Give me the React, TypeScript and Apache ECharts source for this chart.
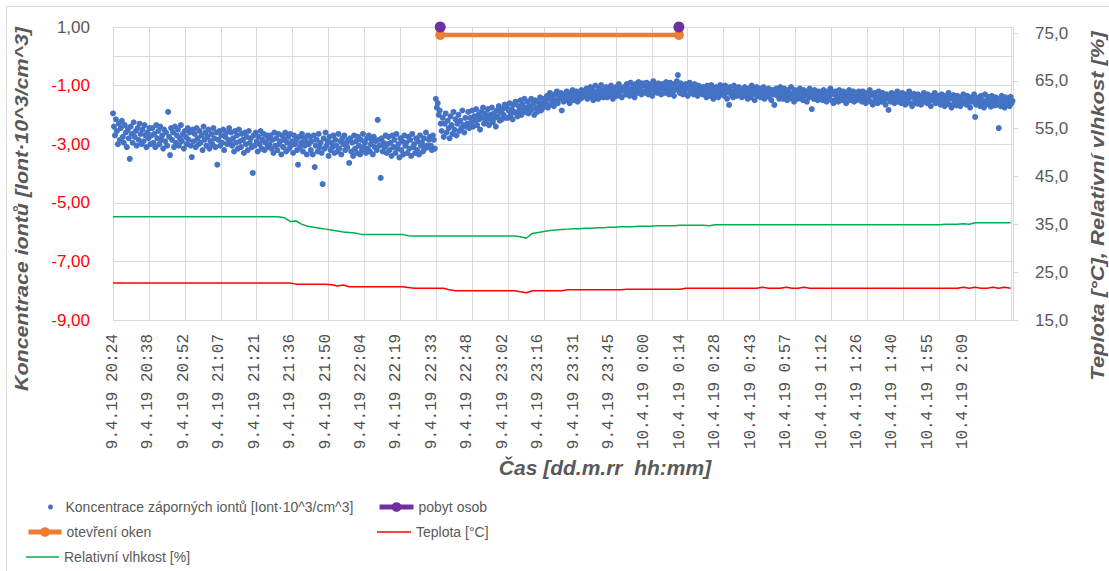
import React, { useEffect, useRef } from "react";
import * as echarts from "echarts";

// ---- categories: one reading every 12 s, starting 9.4.19 20:24 ----
const N_CAT = 1830;
const START_SEC = (20 * 60 + 24) * 60;
const STEP_SEC = 12;
const CATEGORIES: string[] = Array.from({ length: N_CAT }, (_, i) => {
  const t = START_SEC + i * STEP_SEC;
  const day = t >= 86400 ? 10 : 9;
  const s = t % 86400;
  const h = Math.floor(s / 3600);
  const m = Math.floor((s % 3600) / 60);
  return `${day}.4.19 ${h}:${String(m).padStart(2, "0")}`;
});

const X_TICK_LABELS = [
  "9.4.19 20:24", "9.4.19 20:38", "9.4.19 20:52", "9.4.19 21:07", "9.4.19 21:21",
  "9.4.19 21:36", "9.4.19 21:50", "9.4.19 22:04", "9.4.19 22:19", "9.4.19 22:33",
  "9.4.19 22:48", "9.4.19 23:02", "9.4.19 23:16", "9.4.19 23:31", "9.4.19 23:45",
  "10.4.19 0:00", "10.4.19 0:14", "10.4.19 0:28", "10.4.19 0:43", "10.4.19 0:57",
  "10.4.19 1:12", "10.4.19 1:26", "10.4.19 1:40", "10.4.19 1:55", "10.4.19 2:09",
];
const LABEL_EVERY = 72; // categories between labels
const GRID_EVERY = 73; // categories between vertical gridlines

// ---- negative ion concentration, one value every 2 categories ----
const ION_STEP = 2;
const ION = [
  -1.95, -2.40, -2.70, -2.15, -2.55, -3.00, -2.30, -2.85, -2.45, -2.20, -2.75, -2.95, -2.35, -2.60, -3.10, -2.50, -2.80, -3.50, -2.40, -2.65,
  -2.95, -2.25, -2.75, -2.55, -3.05, -2.45, -2.85, -2.30, -2.65, -3.00, -2.50, -2.90, -2.35, -2.70, -3.10, -2.60, -2.80, -2.45, -3.00, -2.70,
  -2.45, -2.95, -2.65, -3.10, -2.35, -2.80, -2.55, -3.00, -2.40, -2.85, -2.70, -3.15, -2.50, -2.90, -2.60, -3.05, -1.90, -2.75, -3.37, -2.45,
  -2.85, -2.60, -3.10, -2.40, -2.95, -2.70, -2.50, -3.05, -2.80, -2.35, -2.90, -2.65, -3.15, -2.55, -2.75, -3.00, -2.45, -2.85, -2.60, -3.05,
  -3.44, -2.50, -2.90, -2.65, -3.10, -2.45, -2.80, -3.00, -2.55, -2.95, -2.70, -3.20, -2.40, -2.85, -2.60, -3.05, -2.75, -2.50, -3.15, -2.90,
  -2.65, -3.00, -2.45, -2.80, -3.10, -2.60, -3.70, -2.85, -2.55, -3.05, -2.70, -2.95, -2.50, -3.20, -2.75, -2.60, -3.00, -2.85, -2.45, -2.95,
  -2.60, -3.05, -2.80, -3.25, -2.55, -2.95, -2.70, -3.15, -2.50, -2.90, -3.10, -2.65, -2.85, -3.30, -2.60, -3.00, -2.75, -3.20, -2.55, -2.95,
  -2.80, -3.10, -3.98, -2.70, -3.05, -2.60, -2.90, -3.25, -2.75, -3.00, -2.55, -3.15, -2.85, -2.65, -3.20, -2.95, -2.70, -3.10, -2.80, -3.00,
  -2.70, -3.15, -2.85, -3.30, -2.60, -3.05, -2.80, -3.20, -2.65, -3.00, -2.90, -3.35, -2.70, -3.10, -2.85, -2.60, -3.25, -2.95, -2.75, -3.15,
  -2.65, -3.05, -2.90, -3.30, -2.70, -3.00, -2.85, -3.20, -3.70, -2.75, -3.10, -2.95, -2.65, -3.25, -2.80, -3.05, -2.90, -3.35, -2.70, -3.00,
  -2.75, -3.20, -2.90, -3.35, -2.70, -3.78, -3.05, -2.85, -3.25, -2.65, -3.10, -2.95, -3.30, -4.36, -2.80, -3.15, -2.60, -3.05, -2.90, -3.40,
  -2.75, -3.20, -2.95, -3.10, -2.70, -3.30, -2.85, -3.05, -3.25, -2.65, -3.15, -2.90, -3.35, -2.80, -3.00, -2.70, -3.20, -2.95, -3.10, -2.85,
  -3.64, -2.80, -3.25, -2.95, -3.40, -2.70, -3.15, -2.90, -3.30, -2.75, -3.05, -3.35, -2.85, -3.20, -2.65, -3.10, -2.95, -3.30, -2.80, -3.15,
  -2.70, -3.25, -3.00, -2.85, -3.35, -2.75, -3.10, -2.90, -3.20, -2.17, -2.85, -3.05, -4.15, -2.80, -3.25, -2.95, -3.10, -2.70, -3.30, -3.00,
  -2.75, -3.20, -2.95, -3.40, -2.70, -3.10, -2.85, -3.30, -2.65, -3.15, -3.00, -3.45, -2.80, -3.20, -2.90, -3.35, -2.70, -3.05, -2.95, -3.30,
  -2.75, -3.15, -2.85, -3.40, -2.65, -3.10, -3.00, -3.30, -2.80, -3.20, -2.90, -3.35, -2.70, -3.05, -2.95, -3.25, -2.80, -3.15, -2.60, -3.05,
  -3.10, -2.85, -2.75, -3.05, -3.20, -2.70, -2.85, -3.15, -1.45, -1.75, -1.60, -2.00, -1.85, -2.30, -2.55, -2.10, -2.75, -2.30, -1.95, -2.60,
  -2.20, -2.45, -2.80, -2.05, -2.35, -2.65, -1.90, -2.50, -2.15, -2.70, -2.30, -2.00, -2.55, -2.20, -2.45, -1.85, -2.35, -2.60, -2.10, -2.40,
  -2.30, -1.90, -2.45, -2.10, -2.25, -1.85, -2.40, -2.05, -2.20, -1.80, -2.35, -2.00, -2.15, -2.50, -1.90, -2.10, -1.75, -2.30, -1.95, -2.20,
  -2.05, -1.80, -2.35, -2.00, -2.15, -1.75, -2.25, -1.95, -2.10, -2.40, -1.85, -2.05, -1.70, -2.20, -1.90, -2.15, -1.80, -2.00, -1.65, -2.10,
  -1.75, -2.10, -1.85, -1.60, -2.00, -1.80, -2.15, -1.65, -1.90, -1.55, -1.95, -2.05, -1.70, -1.85, -1.50, -2.00, -1.65, -1.80, -1.45, -1.90,
  -1.75, -1.55, -1.95, -1.70, -1.85, -1.45, -1.80, -1.60, -2.00, -1.50, -1.75, -1.90, -1.55, -1.70, -1.40, -1.85, -1.60, -1.75, -1.45, -1.65,
  -1.60, -1.35, -1.75, -1.45, -1.25, -1.65, -1.40, -1.55, -1.70, -1.30, -1.50, -1.20, -1.60, -1.35, -1.45, -1.25, -1.85, -1.40, -1.55, -1.30,
  -1.45, -1.20, -1.50, -1.35, -1.60, -1.25, -1.40, -1.15, -1.50, -1.30, -1.45, -1.20, -1.55, -1.35, -1.25, -1.45, -1.15, -1.40, -1.30, -1.20,
  -1.35, -1.10, -1.45, -1.20, -1.30, -1.05, -1.40, -1.15, -1.50, -1.25, -1.00, -1.35, -1.20, -1.45, -1.10, -1.30, -0.98, -1.25, -1.40, -1.15,
  -1.30, -1.05, -1.40, -1.20, -1.10, -1.35, -1.00, -1.25, -1.45, -1.15, -1.30, -1.05, -1.35, -1.20, -0.95, -1.25, -1.10, -1.40, -1.15, -1.05,
  -1.05, -1.30, -0.95, -1.20, -1.10, -1.35, -0.90, -1.15, -1.25, -1.00, -1.40, -0.95, -1.10, -1.25, -0.88, -1.15, -1.05, -1.30, -0.92, -1.20,
  -1.00, -1.25, -0.90, -1.10, -1.30, -0.95, -1.15, -1.05, -1.35, -0.85, -1.20, -1.00, -1.10, -1.25, -0.92, -1.15, -1.05, -1.30, -0.95, -1.10,
  -1.00, -1.25, -0.88, -1.15, -1.05, -1.30, -0.90, -1.10, -1.20, -0.95, -1.35, -1.00, -1.15, -0.85, -0.64, -1.05, -1.25, -0.92, -1.15, -1.30,
  -1.00, -1.20, -0.95, -1.10, -1.35, -1.05, -0.90, -1.25, -1.15, -1.00, -1.30, -0.95, -1.20, -1.10, -1.35, -1.00, -1.25, -1.05, -1.15, -1.30,
  -1.05, -1.30, -1.15, -1.40, -1.00, -1.25, -1.10, -1.35, -0.98, -1.20, -1.45, -1.10, -1.30, -1.05, -1.25, -1.40, -1.15, -0.98, -1.30, -1.20,
  -1.10, -1.35, -1.00, -1.25, -1.45, -1.15, -1.66, -1.05, -1.30, -1.20, -1.40, -1.00, -1.25, -1.10, -1.35, -1.15, -1.05, -1.30, -1.20, -1.40,
  -1.15, -1.35, -1.05, -1.30, -1.20, -1.45, -1.10, -1.25, -1.40, -1.00, -1.30, -1.15, -1.50, -1.20, -1.05, -1.35, -1.25, -1.10, -1.40, -1.20,
  -1.30, -1.05, -1.45, -1.15, -1.35, -1.25, -1.10, -1.40, -1.20, -1.50, -1.15, -1.30, -1.66, -1.25, -1.10, -1.35, -1.20, -1.45, -1.05, -1.30,
  -1.20, -1.45, -1.10, -1.35, -1.25, -1.50, -1.15, -1.40, -1.30, -1.05, -1.45, -1.25, -1.55, -1.15, -1.35, -1.20, -1.45, -1.30, -1.10, -1.40,
  -1.25, -1.50, -1.15, -1.35, -1.30, -1.55, -1.20, -1.40, -1.10, -1.35, -1.80, -1.25, -1.45, -1.15, -1.40, -1.30, -1.50, -1.20, -1.35, -1.25,
  -1.25, -1.50, -1.15, -1.40, -1.30, -1.55, -1.20, -1.45, -1.35, -1.10, -1.50, -1.25, -1.60, -1.30, -1.20, -1.45, -1.35, -1.55, -1.15, -1.40,
  -1.30, -1.50, -1.20, -1.45, -1.35, -1.60, -1.25, -1.40, -1.15, -1.50, -1.30, -1.45, -1.20, -1.55, -1.35, -1.25, -1.50, -1.40, -1.20, -1.45,
  -1.30, -1.55, -1.20, -1.45, -1.35, -1.60, -1.25, -1.50, -1.40, -1.15, -1.55, -1.30, -1.65, -1.35, -1.25, -1.50, -1.40, -1.60, -1.20, -1.45,
  -1.35, -1.55, -1.25, -1.50, -1.40, -1.65, -1.30, -1.45, -1.83, -1.35, -1.55, -1.25, -1.50, -1.40, -1.60, -1.30, -1.45, -1.20, -1.55, -1.40,
  -1.35, -1.60, -1.25, -1.50, -1.40, -1.65, -1.30, -1.55, -1.45, -1.20, -1.60, -1.35, -1.70, -1.40, -1.28, -1.55, -1.45, -1.62, -1.30, -1.50,
  -1.40, -1.65, -1.35, -1.55, -1.25, -1.50, -1.45, -1.60, -1.30, -1.55, -1.40, -1.70, -1.35, -1.50, -1.45, -1.25, -1.60, -1.40, -1.55, -1.35,
  -1.40, -1.65, -1.30, -1.55, -1.45, -1.70, -1.35, -1.60, -1.50, -1.25, -1.65, -1.40, -1.75, -1.45, -1.32, -1.60, -1.50, -1.68, -1.35, -1.55,
  -1.45, -1.70, -1.40, -1.60, -1.30, -1.55, -1.50, -1.65, -1.35, -1.60, -1.45, -1.75, -1.40, -1.55, -1.50, -1.30, -2.07, -1.65, -1.45, -1.55,
  -1.40, -1.70, -1.35, -1.60, -1.50, -1.75, -1.30, -1.65, -1.55, -1.38, -1.62, -1.45, -1.72, -1.35, -1.60, -1.50, -1.68, -1.40, -1.55, -1.65,
  -2.45, -1.45, -1.70, -1.35, -1.60, -1.50, -1.75, -1.40, -1.62, -1.55, -1.45, -1.70, -1.38, -1.60, -1.52,
];

// ---- temperature and humidity, one value every 12 categories ----
const LINE_STEP = 12;
const TEMP = [
  22.74, 22.74, 22.74, 22.74, 22.74, 22.74, 22.74, 22.74, 22.74, 22.74,
  22.74, 22.74, 22.74, 22.74, 22.74, 22.74, 22.74, 22.74, 22.74, 22.74,
  22.74, 22.74, 22.74, 22.74, 22.74, 22.74, 22.74, 22.74, 22.74, 22.74,
  22.74, 22.5, 22.47, 22.47, 22.47, 22.47, 22.47, 22.35, 22.1, 22.3,
  21.97, 21.97, 21.97, 21.97, 21.97, 21.97, 21.97, 21.97, 21.97, 21.97,
  21.8, 21.63, 21.63, 21.63, 21.63, 21.63, 21.63, 21.3, 21.13, 21.13,
  21.13, 21.13, 21.13, 21.13, 21.13, 21.13, 21.13, 21.13, 21.13, 20.9,
  20.7, 21.13, 21.13, 21.13, 21.13, 21.13, 21.13, 21.3, 21.3, 21.3,
  21.3, 21.3, 21.3, 21.3, 21.3, 21.3, 21.3, 21.45, 21.45, 21.45,
  21.45, 21.45, 21.45, 21.45, 21.45, 21.45, 21.45, 21.63, 21.63, 21.63,
  21.63, 21.63, 21.63, 21.63, 21.63, 21.63, 21.63, 21.63, 21.63, 21.63,
  21.85, 21.63, 21.63, 21.63, 21.85, 21.63, 21.63, 21.85, 21.63, 21.63,
  21.63, 21.63, 21.63, 21.63, 21.63, 21.63, 21.63, 21.63, 21.63, 21.63,
  21.63, 21.63, 21.63, 21.63, 21.63, 21.63, 21.63, 21.63, 21.63, 21.63,
  21.63, 21.63, 21.63, 21.63, 21.85, 21.63, 21.85, 21.63, 21.63, 21.85,
  21.63, 21.85, 21.63,
];
const HUM = [
  36.6, 36.6, 36.6, 36.6, 36.6, 36.6, 36.6, 36.6, 36.6, 36.6,
  36.6, 36.6, 36.6, 36.6, 36.6, 36.6, 36.6, 36.6, 36.6, 36.6,
  36.6, 36.6, 36.6, 36.6, 36.6, 36.6, 36.6, 36.6, 36.6, 36.4,
  35.6, 35.7, 35.0, 34.6, 34.4, 34.2, 34.0, 33.8, 33.6, 33.4,
  33.3, 33.2, 32.9, 32.9, 32.9, 32.9, 32.9, 32.9, 32.9, 32.9,
  32.6, 32.55, 32.55, 32.55, 32.55, 32.55, 32.55, 32.55, 32.55, 32.55,
  32.55, 32.55, 32.55, 32.55, 32.55, 32.55, 32.55, 32.55, 32.55, 32.4,
  32.1, 33.1, 33.3, 33.5, 33.7, 33.8, 33.9, 34.0, 34.1, 34.1,
  34.2, 34.2, 34.3, 34.3, 34.4, 34.4, 34.5, 34.5, 34.5, 34.6,
  34.6, 34.6, 34.7, 34.7, 34.7, 34.7, 34.8, 34.8, 34.8, 34.8,
  34.8, 34.7, 34.9, 34.9, 34.9, 34.9, 34.9, 34.9, 34.9, 34.9,
  34.9, 34.9, 34.9, 34.9, 34.9, 34.9, 34.9, 34.9, 34.9, 34.9,
  34.9, 34.9, 34.9, 34.9, 34.9, 34.9, 34.9, 34.9, 34.9, 34.9,
  34.9, 34.9, 34.9, 34.9, 34.9, 34.9, 34.9, 34.9, 34.9, 34.9,
  34.9, 35.0, 35.0, 35.0, 35.1, 35.0, 35.35, 35.35, 35.35, 35.35,
  35.35, 35.35, 35.35,
];

// ---- events (left axis) ----
const EVENT_IDX = [665, 1150]; // start / end category
const WINDOW_LEVEL = 0.73;
const PRESENCE_LEVEL = 1.0;

const NAME_ION = "Koncentrace záporných iontů [Iont·10^3/cm^3]";
const NAME_PRES = "pobyt osob";
const NAME_WIN = "otevření oken";
const NAME_TEMP = "Teplota [°C]";
const NAME_HUM = "Relativní vlhkost [%]";

const GRAY = "#595959";
const GRID = "#d9d9d9";
const SANS = "'Liberation Sans', Arial, sans-serif";

export default function App() {
  const ref = useRef<HTMLDivElement>(null);
  useEffect(() => {
    if (!ref.current) return;
    const chart = echarts.init(ref.current, undefined, { renderer: "svg" });
    const ionData = ION.map((v, i) => [i * ION_STEP, v]);
    const tempData = TEMP.map((v, i) => [i * LINE_STEP, v]);
    const humData = HUM.map((v, i) => [i * LINE_STEP, v]);
    const mid = Math.round((EVENT_IDX[0] + EVENT_IDX[1]) / 2);

    const legendBase = {
      orient: "horizontal",
      padding: 0,
      itemGap: 0,
      selectedMode: false,
      textStyle: { color: GRAY, fontSize: 14, fontFamily: SANS },
    };

    chart.setOption({
      animation: false,
      backgroundColor: "#ffffff",
      grid: { left: 113, right: 96, top: 27, bottom: 251, containLabel: false },
      legend: [
        { ...legendBase, data: [NAME_ION], left: 48, top: 500, itemWidth: 20, itemHeight: 5 },
        { ...legendBase, data: [NAME_PRES], left: 377, top: 500, itemWidth: 34, itemHeight: 12, lineStyle: { width: 5 } },
        { ...legendBase, data: [NAME_WIN], left: 26, top: 525, itemWidth: 33, itemHeight: 12, lineStyle: { width: 5 } },
        { ...legendBase, data: [{ name: NAME_TEMP, icon: "rect" }], left: 377, top: 525, itemWidth: 34, itemHeight: 1.5 },
        { ...legendBase, data: [{ name: NAME_HUM, icon: "rect" }], left: 26, top: 550, itemWidth: 33, itemHeight: 1.5 },
      ],
      xAxis: {
        type: "category",
        data: CATEGORIES,
        boundaryGap: false,
        axisLine: { show: true, lineStyle: { color: GRID } },
        axisTick: { show: false },
        splitLine: { show: true, interval: GRID_EVERY - 1, lineStyle: { color: GRID, width: 1 } },
        axisLabel: {
          interval: (idx: number) => idx % LABEL_EVERY === 0 && idx / LABEL_EVERY < X_TICK_LABELS.length,
          rotate: 90,
          margin: 14,
          color: "#505050",
          fontSize: 16,
          fontFamily: "'Liberation Mono', 'DejaVu Sans Mono', monospace",
          formatter: (v: string, idx: number) => X_TICK_LABELS[idx / LABEL_EVERY] ?? "",
        },
      },
      yAxis: [
        {
          type: "value",
          min: -9,
          max: 1,
          interval: 2,
          axisLine: { show: true, lineStyle: { color: GRID } },
          axisTick: { show: false },
          splitLine: { show: true, lineStyle: { color: GRID } },
          axisLabel: {
            margin: 23,
            formatter: (v: number) => {
              const s = v.toFixed(2).replace(".", ",");
              return v < 0 ? `{neg|${s}}` : `{pos|${s}}`;
            },
            rich: {
              neg: { color: "#ff0000", fontSize: 17, fontFamily: SANS },
              pos: { color: GRAY, fontSize: 17, fontFamily: SANS },
            },
          },
        },
        {
          type: "value",
          position: "right",
          min: 15,
          max: 76.26,
          interval: 10,
          axisLine: { show: true, lineStyle: { color: GRID } },
          axisTick: { show: true, length: 5, lineStyle: { color: GRID } },
          splitLine: { show: false },
          axisLabel: {
            margin: 22,
            showMaxLabel: false,
            color: GRAY,
            fontSize: 17,
            fontFamily: SANS,
            formatter: (v: number) => v.toFixed(1).replace(".", ","),
          },
        },
      ],
      series: [
        {
          name: NAME_ION,
          type: "scatter",
          yAxisIndex: 0,
          symbol: "circle",
          symbolSize: 6,
          itemStyle: { color: "#4472c4", opacity: 1 },
          data: ionData,
          z: 2,
          markLine: {
            silent: true,
            symbol: ["none", "none"],
            label: { show: false },
            lineStyle: { color: GRID, type: "solid", width: 1 },
            data: [{ yAxis: 0 }],
          },
        },
        {
          name: NAME_HUM,
          type: "line",
          yAxisIndex: 1,
          showSymbol: false,
          symbol: "none",
          lineStyle: { color: "#00b050", width: 1.5 },
          itemStyle: { color: "#00b050" },
          data: humData,
          z: 3,
        },
        {
          name: NAME_TEMP,
          type: "line",
          yAxisIndex: 1,
          showSymbol: false,
          symbol: "none",
          lineStyle: { color: "#ff0000", width: 1.5 },
          itemStyle: { color: "#ff0000" },
          data: tempData,
          z: 3,
        },
        {
          name: NAME_WIN,
          type: "line",
          yAxisIndex: 0,
          symbol: "circle",
          symbolSize: 10,
          showSymbol: true,
          showAllSymbol: true,
          lineStyle: { color: "#ed7d31", width: 4.5 },
          itemStyle: { color: "#ed7d31" },
          data: [
            [EVENT_IDX[0], WINDOW_LEVEL],
            [EVENT_IDX[1], WINDOW_LEVEL],
          ],
          z: 4,
        },
        {
          name: NAME_PRES,
          type: "line",
          yAxisIndex: 0,
          symbol: "circle",
          symbolSize: 11,
          showSymbol: true,
          showAllSymbol: true,
          connectNulls: false,
          clip: false,
          lineStyle: { color: "#7030a0", width: 4.5 },
          itemStyle: { color: "#7030a0" },
          data: [
            [EVENT_IDX[0], PRESENCE_LEVEL],
            [mid, "-"],
            [EVENT_IDX[1], PRESENCE_LEVEL],
          ],
          z: 5,
        },
      ],
      graphic: [
        {
          type: "rect",
          silent: true,
          shape: { x: 6.5, y: 6.5, width: 1300, height: 1300 },
          style: { fill: "none", stroke: GRID, lineWidth: 1 },
        },
        {
          type: "text",
          x: 22,
          y: 209,
          rotation: Math.PI / 2,
          scaleX: 1.19,
          style: {
            text: "Koncentrace iontů [Iont·10^3/cm^3]",
            fill: GRAY,
            font: "italic bold 18px 'Liberation Sans', Arial, sans-serif",
            align: "center",
            verticalAlign: "middle",
          },
        },
        {
          type: "text",
          x: 1098,
          y: 206,
          rotation: Math.PI / 2,
          scaleX: 1.22,
          style: {
            text: "Teplota [°C], Relativní vlhkost [%]",
            fill: GRAY,
            font: "italic bold 18px 'Liberation Sans', Arial, sans-serif",
            align: "center",
            verticalAlign: "middle",
          },
        },
        {
          type: "text",
          x: 605,
          y: 467,
          style: {
            text: "Čas [dd.m.rr  hh:mm]",
            fill: GRAY,
            font: "italic bold 21px 'Liberation Sans', Arial, sans-serif",
            align: "center",
            verticalAlign: "middle",
          },
        },
      ],
    });
    return () => chart.dispose();
  }, []);
  return (
    <div
      ref={ref}
      style={{ position: "absolute", left: 0, top: 0, width: 1109, height: 571, background: "#fff" }}
    />
  );
}
